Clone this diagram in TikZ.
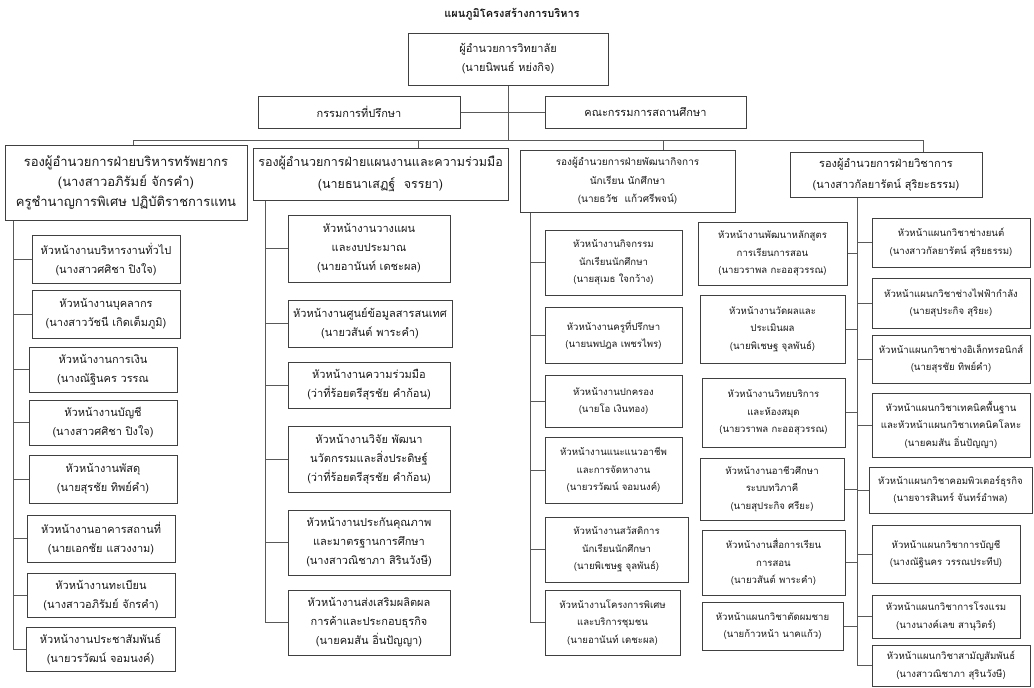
\documentclass[tikz,border=0pt]{standalone}
\usepackage{fontspec}
\newfontfamily\thaifont[Script=Thai]{Loma}
\usetikzlibrary{positioning}

\begin{document}
\begin{tikzpicture}
[
x=1pt, y=-1pt,
post/.style={draw=black!75, line width=1pt, text=black!90, align=center, inner sep=1pt,
  font=\thaifont\fontsize{9.6}{17.5}\selectfont},
bigpost/.style={post, font=\thaifont\fontsize{11}{19}\selectfont},
link/.style={draw=black!65, line width=0.7pt},
]
\useasboundingbox (0,0) rectangle (1034,688);
\node[text=black!90, font=\thaifont\fontsize{11}{13}\selectfont\bfseries] (title) at (512,14) {แผนภูมิโครงสร้างการบริหาร};
\node[bigpost, minimum width=200, minimum height=52] (dir) at (508,59) {ผู้อำนวยการวิทยาลัย\\(นายนิพนธ์ หย่งกิจ)};
\node[bigpost, minimum width=202, minimum height=32] (adv1) at (359,112) {กรรมการที่ปรึกษา};
\node[bigpost, minimum width=201, minimum height=32] (adv2) at (645.5,112) {คณะกรรมการสถานศึกษา};
% heads of the four divisions
\node[post, font=\thaifont\fontsize{13}{20}\selectfont, minimum width=242, minimum height=75] (h1) at (126,182.5) {รองผู้อำนวยการฝ่ายบริหารทรัพยากร\\(นางสาวอภิรัมย์ จักรคำ)\\ครูชำนาญการพิเศษ ปฏิบัติราชการแทน};
\node[post, font=\thaifont\fontsize{12.5}{22}\selectfont, minimum width=255, minimum height=52] (h2) at (380.5,174) {รองผู้อำนวยการฝ่ายแผนงานและความร่วมมือ\\(นายธนาเสฏฐ์ \ จรรยา)};
\node[post, font=\thaifont\fontsize{10}{18.5}\selectfont, minimum width=215, minimum height=62] (h3) at (627.5,181) {รองผู้อำนวยการฝ่ายพัฒนากิจการ\\นักเรียน นักศึกษา\\(นายธวัช \ แก้วศรีพจน์)};
\node[post, font=\thaifont\fontsize{11}{21}\selectfont, minimum width=192, minimum height=45] (h4) at (886,174.5) {รองผู้อำนวยการฝ่ายวิชาการ\\(นางสาวกัลยารัตน์ สุริยะธรรม)};
% resources
\node[bigpost, minimum width=148, minimum height=48] (a1) at (106,259) {หัวหน้างานบริหารงานทั่วไป\\(นางสาวศศิชา ปิงใจ)};
\node[bigpost, minimum width=148, minimum height=48] (a2) at (106,314) {หัวหน้างานบุคลากร\\(นางสาววัชนี เกิดเต็มภูมิ)};
\node[bigpost, minimum width=148, minimum height=45] (a3) at (103,369.5) {หัวหน้างานการเงิน\\(นางณัฐินคร วรรณ};
\node[bigpost, minimum width=148, minimum height=45] (a4) at (103,422.5) {หัวหน้างานบัญชี\\(นางสาวศศิชา ปิงใจ)};
\node[bigpost, minimum width=148, minimum height=48] (a5) at (103,479) {หัวหน้างานพัสดุ\\(นายสุรชัย ทิพย์คำ)};
\node[bigpost, minimum width=148, minimum height=47] (a6) at (101,538.5) {หัวหน้างานอาคารสถานที่\\(นายเอกชัย แสวงงาม)};
\node[bigpost, minimum width=148, minimum height=44] (a7) at (101,595) {หัวหน้างานทะเบียน\\(นางสาวอภิรัมย์ จักรคำ)};
\node[bigpost, minimum width=149, minimum height=44] (a8) at (100.5,649) {หัวหน้างานประชาสัมพันธ์\\(นายวรวัฒน์ จอมนงค์)};
% planning
\node[bigpost, minimum width=162, minimum height=67] (b1) at (369,248.5) {หัวหน้างานวางแผน\\และงบประมาณ\\(นายอานันท์ เดชะผล)};
\node[bigpost, minimum width=164, minimum height=47] (b2) at (370,323.5) {หัวหน้างานศูนย์ข้อมูลสารสนเทศ\\(นายวสันต์ พาระคำ)};
\node[bigpost, minimum width=162, minimum height=46] (b3) at (369,385) {หัวหน้างานความร่วมมือ\\(ว่าที่ร้อยตรีสุรชัย คำก้อน)};
\node[bigpost, minimum width=162, minimum height=66] (b4) at (369,459) {หัวหน้างานวิจัย พัฒนา\\นวัตกรรมและสิ่งประดิษฐ์\\(ว่าที่ร้อยตรีสุรชัย คำก้อน)};
\node[bigpost, minimum width=162, minimum height=65] (b5) at (369,542.5) {หัวหน้างานประกันคุณภาพ\\และมาตรฐานการศึกษา\\(นางสาวณิชาภา สิรินวังษี)};
\node[bigpost, minimum width=162, minimum height=65] (b6) at (369,622.5) {หัวหน้างานส่งเสริมผลิตผล\\การค้าและประกอบธุรกิจ\\(นายคมสัน อิ่นปัญญา)};
% student affairs
\node[post, minimum width=137, minimum height=65] (c1) at (613.5,262.5) {หัวหน้างานกิจกรรม\\นักเรียนนักศึกษา\\(นายสุเมธ ใจกว้าง)};
\node[post, minimum width=137, minimum height=56] (c2) at (613.5,335) {หัวหน้างานครูที่ปรึกษา\\(นายนพปฎล เพชรไพร)};
\node[post, minimum width=137, minimum height=52] (c3) at (613.5,401) {หัวหน้างานปกครอง\\(นายโอ เงินทอง)};
\node[post, minimum width=137, minimum height=66] (c4) at (613.5,470) {หัวหน้างานแนะแนวอาชีพ\\และการจัดหางาน\\(นายวรวัฒน์ จอมนงค์)};
\node[post, minimum width=143, minimum height=65] (c5) at (616.5,549.5) {หัวหน้างานสวัสดิการ\\นักเรียนนักศึกษา\\(นายพิเชษฐ จุลพันธ์)};
\node[post, minimum width=135, minimum height=65] (c6) at (612.5,622.5) {หัวหน้างานโครงการพิเศษ\\และบริการชุมชน\\(นายอานันท์ เดชะผล)};
% academic, left side
\node[post, minimum width=149, minimum height=63] (d1) at (772.5,253.5) {หัวหน้างานพัฒนาหลักสูตร\\การเรียนการสอน\\(นายวราพล กะออสุวรรณ)};
\node[post, minimum width=145, minimum height=68] (d2) at (772.5,329) {หัวหน้างานวัดผลและ\\ประเมินผล\\(นายพิเชษฐ จุลพันธ์)};
\node[post, minimum width=143, minimum height=69] (d3) at (773.5,412.5) {หัวหน้างานวิทยบริการ\\และห้องสมุด\\(นายวราพล กะออสุวรรณ)};
\node[post, minimum width=144, minimum height=62] (d4) at (772,489) {หัวหน้างานอาชีวศึกษา\\ระบบทวิภาคี\\(นายสุประกิจ ศรียะ)};
\node[post, minimum width=143, minimum height=65] (d5) at (773.5,562.5) {หัวหน้างานสื่อการเรียน\\การสอน\\(นายวสันต์ พาระคำ)};
\node[post, minimum width=141, minimum height=48] (d6) at (772.5,626) {หัวหน้าแผนกวิชาตัดผมชาย\\(นายก้าวหน้า นาคแก้ว)};
% academic, right side
\node[post, minimum width=158, minimum height=49] (e1) at (951,242.5) {หัวหน้าแผนกวิชาช่างยนต์\\(นางสาวกัลยารัตน์ สุริยธรรม)};
\node[post, minimum width=158, minimum height=50] (e2) at (951,303) {หัวหน้าแผนกวิชาช่างไฟฟ้ากำลัง\\(นายสุประกิจ สุริยะ)};
\node[post, minimum width=158, minimum height=48] (e3) at (951,359) {หัวหน้าแผนกวิชาช่างอิเล็กทรอนิกส์\\(นายสุรชัย ทิพย์คำ)};
\node[post, minimum width=158, minimum height=64] (e4) at (951,425) {หัวหน้าแผนกวิชาเทคนิคพื้นฐาน\\และหัวหน้าแผนกวิชาเทคนิคโลหะ\\(นายคมสัน อิ่นปัญญา)};
\node[post, minimum width=163, minimum height=46] (e5) at (950.5,490) {หัวหน้าแผนกวิชาคอมพิวเตอร์ธุรกิจ\\(นายจารสินทร์ จันทร์อำพล)};
\node[post, minimum width=148, minimum height=58] (e6) at (946,554) {หัวหน้าแผนกวิชาการบัญชี\\(นางณัฐินคร วรรณประทีป)};
\node[post, minimum width=148, minimum height=43] (e7) at (946,616.5) {หัวหน้าแผนกวิชาการโรงแรม\\(นางนางค์เลข สานุวิตร์)};
\node[post, minimum width=158, minimum height=41] (e8) at (951,665.5) {หัวหน้าแผนกวิชาสามัญสัมพันธ์\\(นางสาวณิชาภา สุรินวังษี)};
% connectors
\coordinate (d1drop) at (133,140);
\coordinate (d2drop) at (418,140);
\coordinate (d3drop) at (663,140);
\coordinate (d4drop) at (923,140);
\draw[link] (dir.south) -- (dir.south |- d1drop);
\draw[link] (adv1.east) -- (adv2.west);
\draw[link] (d1drop) -- (d4drop);
\foreach \k in {1,...,4} \draw[link] (d\k drop) -- (d\k drop |- h\k.north);
\coordinate (t1) at (13,649);
\coordinate (t2) at (265,622.5);
\coordinate (t3) at (530,622.5);
\coordinate (t4) at (857,665.5);
\foreach \k in {1,...,4} \draw[link] (h\k.south -| t\k) -- (t\k);
\foreach \i in {1,...,8} \draw[link] (a\i.west) -- (a\i.west -| t1);
\foreach \i in {1,...,6} \draw[link] (b\i.west) -- (b\i.west -| t2);
\foreach \i in {1,...,6} \draw[link] (c\i.west) -- (c\i.west -| t3);
\foreach \i in {1,...,6} \draw[link] (d\i.east) -- (d\i.east -| t4);
\foreach \i in {1,...,8} \draw[link] (e\i.west) -- (e\i.west -| t4);
\end{tikzpicture}
\end{document}
